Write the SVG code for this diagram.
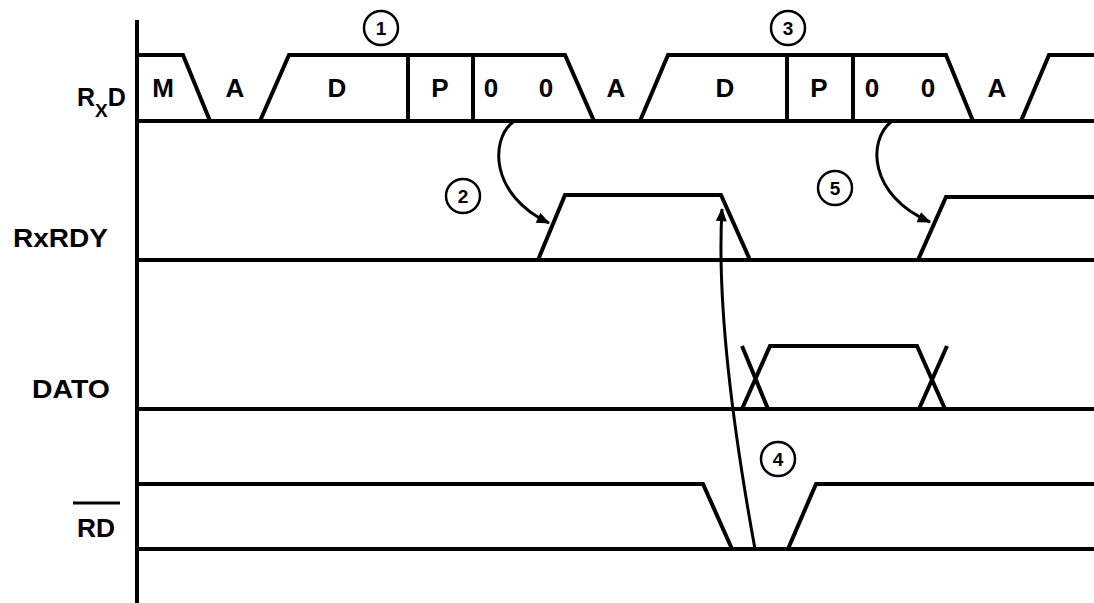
<svg xmlns="http://www.w3.org/2000/svg" width="1094" height="603" viewBox="0 0 1094 603">
<style>
.w{fill:none;stroke:#000;stroke-width:4;stroke-linejoin:miter}
.t{font-family:"Liberation Sans",Arial,sans-serif;font-weight:bold;font-size:25px;fill:#000}
.i{font-family:"Liberation Sans",Arial,sans-serif;font-weight:bold;font-size:26px;fill:#000;text-anchor:middle}
.c{fill:none;stroke:#000;stroke-width:2.5}
.n{font-family:"Liberation Sans",Arial,sans-serif;font-weight:bold;font-size:19px;fill:#000;text-anchor:middle}
.a{fill:none;stroke:#000;stroke-width:3}
</style>
<defs>
<marker id="ah" viewBox="0 0 12 10" refX="11" refY="5" markerWidth="14" markerHeight="11" markerUnits="userSpaceOnUse" orient="auto">
<path d="M0,0 L12,5 L0,10 z" fill="#000"/>
</marker>
</defs>
<rect width="1094" height="603" fill="#fff"/>
<g id="axis"><path class="w" d="M137,20 L137,603"/></g>
<g id="rxd">
<text class="t" x="77" y="106">R<tspan font-size="19" dy="11">X</tspan><tspan dy="-11">D</tspan></text>
<path class="w" d="M137,121 L1094,121"/>
<path class="w" d="M137,55 L183,55 L210,121"/>
<path class="w" d="M260,121 L289,55 L565,55 L594,121"/>
<path class="w" d="M640,121 L668,55 L946,55 L973,121"/>
<path class="w" d="M1021,121 L1049,55 L1094,55"/>
<path class="w" d="M408,55 L408,121 M473,55 L473,121 M787,55 L787,121 M853,55 L853,121"/>
<g class="i">
<text x="163" y="97">M</text>
<text x="235" y="97">A</text>
<text x="337" y="97">D</text>
<text x="440" y="97">P</text>
<text x="491" y="97">0</text>
<text x="546" y="97">0</text>
<text x="616" y="97">A</text>
<text x="725" y="97">D</text>
<text x="819" y="97">P</text>
<text x="872" y="97">0</text>
<text x="928" y="97">0</text>
<text x="997" y="97">A</text>
</g>
</g>
<g id="rxrdy">
<text class="t" x="13" y="247" textLength="95" lengthAdjust="spacingAndGlyphs">RxRDY</text>
<path class="w" d="M137,260 L1094,260"/>
<path class="w" d="M538,260 L565,195 L721,195 L750,260"/>
<path class="w" d="M918,260 L946,197 L1094,197"/>
</g>
<g id="dato">
<text class="t" x="32" y="398" textLength="78" lengthAdjust="spacingAndGlyphs">DATO</text>
<path class="w" d="M137,409 L1094,409"/>
<path class="w" d="M742,346 L768,409 M742,409 L770,346 L917,346 L945,409 M919,409 L947,346"/>
</g>
<g id="rd">
<text class="t" x="77" y="537" textLength="38" lengthAdjust="spacingAndGlyphs">RD</text>
<path d="M73,503 L120,503" stroke="#000" stroke-width="3"/>
<path class="w" d="M137,549 L1094,549"/>
<path class="w" d="M137,484 L703,484 L732,549"/>
<path class="w" d="M788,549 L816,484 L1094,484"/>
</g>
<g id="step1"><circle class="c" cx="381" cy="28" r="17"/><text class="n" x="381" y="35">1</text></g>
<g id="step2"><circle class="c" cx="463" cy="196" r="17"/><text class="n" x="463" y="203">2</text></g>
<g id="step3"><circle class="c" cx="788" cy="28" r="17"/><text class="n" x="788" y="35">3</text></g>
<g id="step4"><circle class="c" cx="778" cy="459" r="17"/><text class="n" x="778" y="466">4</text></g>
<g id="step5"><circle class="c" cx="835" cy="188" r="17"/><text class="n" x="835" y="195">5</text></g>
<g id="connectors">
<path class="a" d="M513,122 C490,140 490,195 549,223" marker-end="url(#ah)"/>
<path class="a" d="M891,122 C868,140 868,195 930,222" marker-end="url(#ah)"/>
<path class="a" d="M755,549 Q715,330 722,209" marker-end="url(#ah)"/>
</g>
</svg>
